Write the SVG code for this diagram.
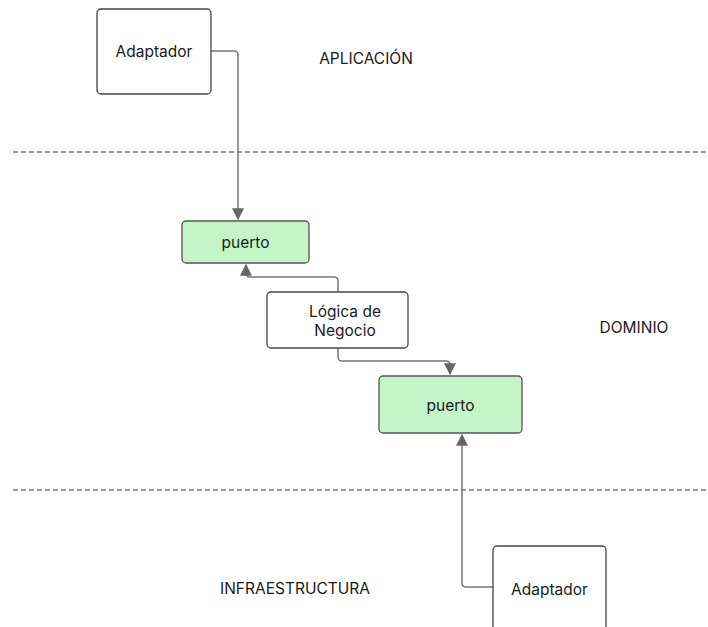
<svg xmlns="http://www.w3.org/2000/svg" width="708" height="627" viewBox="0 0 708 627">
  <style>
    .box { fill: #ffffff; stroke: #444; stroke-width: 1.3; }
    .port { fill: #c3f5c7; stroke: #555; stroke-width: 1.3; }
    .lbl { font-family: Inter, "Liberation Sans", sans-serif; font-size: 15.5px; fill: #1a1a1a; text-anchor: middle; }
    .layer { font-family: Inter, "Liberation Sans", sans-serif; font-size: 15.5px; fill: #1a1a1a; text-anchor: middle; }
    .edge { fill: none; stroke: #777; stroke-width: 1.5; }
    .sep { stroke: #777; stroke-width: 1.3; stroke-dasharray: 5 3; }
  </style>
  <defs>
    <marker id="arrow" viewBox="0 0 10 10" refX="9" refY="5" markerWidth="12" markerHeight="12" markerUnits="userSpaceOnUse" orient="auto">
      <path d="M0,0 L10,5 L0,10 Z" fill="#666"/>
    </marker>
  </defs>

  <!-- layer separators -->
  <g id="separators">
    <line class="sep" x1="13" y1="152" x2="708" y2="152"/>
    <line class="sep" x1="13" y1="490" x2="708" y2="490"/>
  </g>

  <!-- layer names -->
  <g id="layers">
    <text class="layer" x="366" y="64">APLICACIÓN</text>
    <text class="layer" x="634" y="333">DOMINIO</text>
    <text class="layer" x="295" y="594">INFRAESTRUCTURA</text>
  </g>

  <!-- connectors -->
  <g id="connectors">
    <path class="edge" d="M211,51 H234 Q238,51 238,55 V219" marker-end="url(#arrow)"/>
    <path class="edge" d="M338,292 V281 Q338,277 334,277 H250 Q246,277 246,273 V265" marker-end="url(#arrow)"/>
    <path class="edge" d="M338,348 V357 Q338,361 342,361 H446 Q450,361 450,365 V374" marker-end="url(#arrow)"/>
    <path class="edge" d="M493,587 H466 Q462,587 462,583 V435" marker-end="url(#arrow)"/>
  </g>

  <g id="adaptador-app">
    <rect class="box" x="97" y="9" width="114" height="85" rx="4"/>
    <text class="lbl" x="154" y="57">Adaptador</text>
  </g>

  <g id="puerto-entrada">
    <rect class="port" x="182" y="221" width="127" height="42" rx="4"/>
    <text class="lbl" x="245.5" y="248">puerto</text>
  </g>

  <g id="logica-negocio">
    <rect class="box" x="267" y="292" width="141" height="56" rx="4"/>
    <text class="lbl" x="345" y="317">Lógica de</text>
    <text class="lbl" x="345" y="336">Negocio</text>
  </g>

  <g id="puerto-salida">
    <rect class="port" x="379" y="376" width="143" height="57" rx="4"/>
    <text class="lbl" x="450.5" y="411">puerto</text>
  </g>

  <g id="adaptador-infra">
    <rect class="box" x="493" y="546" width="113" height="100" rx="4"/>
    <text class="lbl" x="549.5" y="595">Adaptador</text>
  </g>
</svg>
